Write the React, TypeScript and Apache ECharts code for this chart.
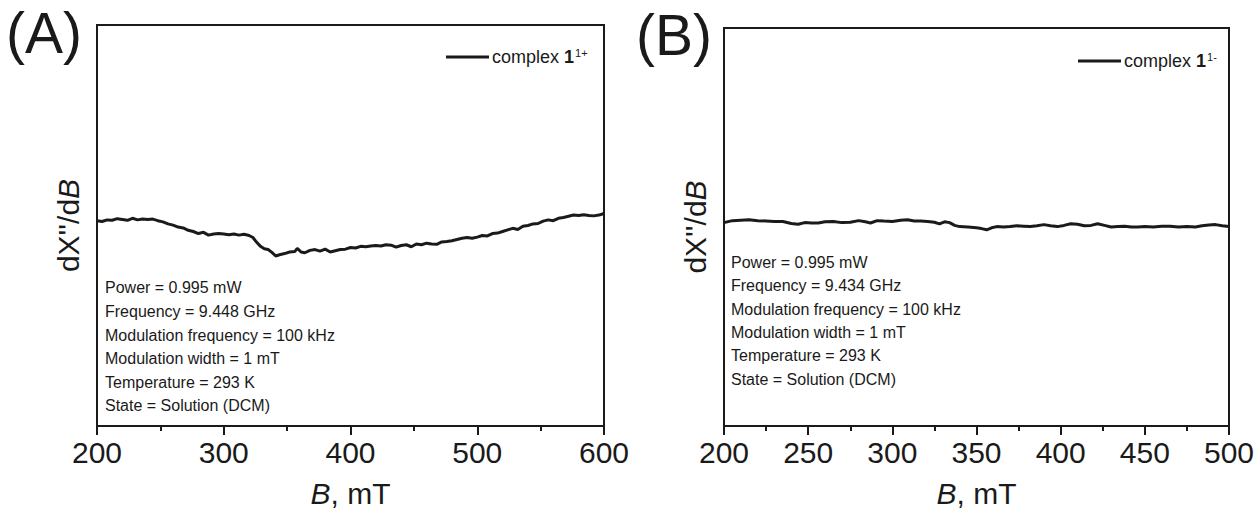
import React, { useEffect, useRef } from 'react';
import * as echarts from 'echarts';

const FONT = '"Liberation Sans", Arial, Helvetica, sans-serif';
const INK = '#1a1a1a';

// Panel A: complex 1(1+), B (mT) vs dX''/dB (arb. units)
const fieldA = [200, 204, 208, 212, 216, 220, 224, 228, 232, 236, 240, 244, 248, 252, 256, 260, 264, 268, 272, 276, 280, 284, 288, 292, 296, 300, 304, 308, 312, 316, 320, 323, 326, 329, 332, 335, 338, 341, 344, 348, 352, 356, 358, 361, 364, 368, 372, 376, 380, 384, 388, 392, 396, 400, 404, 408, 412, 416, 420, 424, 428, 432, 436, 440, 444, 448, 452, 456, 460, 464, 468, 472, 476, 480, 484, 488, 492, 496, 500, 504, 508, 512, 516, 520, 524, 528, 532, 536, 540, 544, 548, 552, 556, 560, 564, 568, 572, 576, 580, 584, 588, 592, 596, 600];
const signalA = [51.2, 51.0, 51.4, 51.3, 51.7, 51.5, 51.3, 51.8, 51.4, 51.6, 51.5, 51.6, 51.2, 50.9, 50.4, 50.1, 49.6, 49.4, 48.8, 48.5, 48.0, 48.3, 47.6, 47.9, 48.0, 47.9, 47.7, 47.9, 47.6, 47.8, 47.5, 47.0, 45.8, 44.8, 44.2, 44.0, 43.3, 42.4, 42.7, 43.0, 43.4, 43.5, 44.3, 43.4, 43.2, 43.8, 44.0, 43.6, 44.1, 43.4, 43.7, 44.0, 44.1, 44.5, 44.4, 44.8, 44.7, 44.9, 45.0, 44.9, 45.2, 45.1, 44.6, 45.0, 45.2, 44.7, 45.4, 45.2, 45.6, 45.4, 45.3, 45.9, 46.0, 46.2, 46.5, 46.8, 47.0, 46.8, 47.1, 47.5, 47.4, 48.0, 48.1, 48.5, 48.9, 49.3, 49.0, 49.8, 50.0, 50.4, 50.5, 51.1, 51.4, 51.2, 51.8, 52.0, 52.3, 52.6, 52.5, 52.7, 52.5, 52.4, 52.6, 53.0];

// Panel B: complex 1(1-)
const fieldB = [200, 205, 210, 215, 220, 225, 230, 235, 240, 244, 248, 252, 256, 260, 265, 270, 275, 280, 284, 287, 291, 295, 300, 305, 309, 313, 317, 321, 325, 328, 331, 334, 337, 340, 345, 350, 353, 356, 359, 362, 366, 370, 374, 378, 382, 386, 390, 394, 398, 402, 406, 410, 414, 418, 422, 426, 430, 434, 438, 442, 446, 450, 455, 460, 465, 470, 475, 480, 484, 488, 492, 496, 500];
const signalB = [51.1, 51.6, 51.7, 51.8, 51.6, 51.5, 51.4, 51.4, 50.9, 50.7, 51.1, 51.0, 51.0, 51.3, 51.4, 51.1, 51.2, 51.6, 51.3, 51.0, 51.6, 51.5, 51.4, 51.7, 51.8, 51.5, 51.5, 51.4, 51.2, 50.8, 51.3, 51.1, 50.4, 50.1, 50.0, 49.8, 49.6, 49.3, 49.8, 50.1, 50.0, 50.1, 50.3, 50.2, 50.1, 50.3, 50.6, 50.3, 50.1, 50.4, 50.8, 50.7, 50.3, 50.4, 50.8, 50.4, 50.0, 50.1, 50.2, 50.0, 50.0, 50.1, 50.0, 50.2, 50.2, 50.0, 50.1, 50.0, 50.3, 50.5, 50.6, 50.3, 50.1];

const rangeA = [200, 600, 100];
const rangeB = [200, 500, 50];

const paramsA = ['Power = 0.995 mW', 'Frequency = 9.448 GHz', 'Modulation frequency = 100 kHz', 'Modulation width = 1 mT', 'Temperature = 293 K', 'State = Solution (DCM)'];
const paramsB = ['Power = 0.995 mW', 'Frequency = 9.434 GHz', 'Modulation frequency = 100 kHz', 'Modulation width = 1 mT', 'Temperature = 293 K', 'State = Solution (DCM)'];

const legendA = ['complex ', '1', '1+'];
const legendB = ['complex ', '1', '1-'];

function xAxisFor(gridIndex: number, r: number[]) {
  return {
    gridIndex,
    type: 'value',
    min: r[0],
    max: r[1],
    interval: r[2],
    axisLine: { show: true, onZero: false, lineStyle: { color: INK, width: 2 } },
    axisTick: { show: true, length: 9, lineStyle: { color: INK, width: 2 } },
    minorTick: { show: true, splitNumber: 2, length: 5, lineStyle: { color: INK, width: 2 } },
    splitLine: { show: false },
    minorSplitLine: { show: false },
    axisLabel: { fontSize: 30, color: INK, margin: 11, fontFamily: FONT },
    name: '{i|B}, mT',
    nameLocation: 'middle',
    nameGap: 52,
    nameTextStyle: {
      fontSize: 30, color: INK, fontFamily: FONT,
      rich: { i: { fontStyle: 'italic', fontSize: 30, color: INK, fontFamily: FONT } },
    },
  };
}

function yAxisFor(gridIndex: number) {
  return {
    gridIndex,
    type: 'value',
    min: 0,
    max: 100,
    axisLine: { show: true, lineStyle: { color: INK, width: 2 } },
    axisTick: { show: false },
    axisLabel: { show: false },
    splitLine: { show: false },
    name: "dX''/d{i|B}",
    nameLocation: 'middle',
    nameGap: 14,
    nameRotate: 90,
    nameTextStyle: {
      fontSize: 30, color: INK, fontFamily: FONT,
      rich: { i: { fontStyle: 'italic', fontSize: 30, color: INK, fontFamily: FONT } },
    },
  };
}

function legendFor(parts: string[], name: string, left: number, top: number) {
  return {
    data: [name],
    left,
    top,
    icon: 'rect',
    itemWidth: 43,
    itemHeight: 3,
    itemGap: 4,
    padding: 0,
    formatter: () => `${parts[0]}{b|${parts[1]}}{s|${parts[2]}}`,
    textStyle: {
      fontSize: 18,
      color: INK,
      fontFamily: FONT,
      padding: [0, 0, 0, -2],
      rich: {
        b: { fontSize: 18, fontWeight: 'bold', color: INK, fontFamily: FONT },
        s: { fontSize: 11, color: INK, fontFamily: FONT, verticalAlign: 'top', padding: [0, 0, 9, 1] },
      },
    },
  };
}

export default function App() {
  const ref = useRef<HTMLDivElement>(null);
  useEffect(() => {
    if (!ref.current) return;
    const chart = echarts.init(ref.current, null, { renderer: 'svg' });
    const nameA = 'complex 1 (1+)';
    const nameB = 'complex 1 (1-)';
    chart.setOption({
      animation: false,
      backgroundColor: '#ffffff',
      grid: [
        { left: 97, top: 25, width: 507, height: 413, show: true, borderColor: INK, borderWidth: 2, backgroundColor: 'transparent' },
        { left: 724, top: 28, width: 505, height: 412, show: true, borderColor: INK, borderWidth: 2, backgroundColor: 'transparent' },
      ],
      xAxis: [xAxisFor(0, rangeA), xAxisFor(1, rangeB)],
      yAxis: [yAxisFor(0), yAxisFor(1)],
      legend: [legendFor(legendA, nameA, 446, 47), legendFor(legendB, nameB, 1078, 51)],
      series: [
        {
          name: nameA, type: 'line', xAxisIndex: 0, yAxisIndex: 0, symbol: 'none',
          lineStyle: { color: INK, width: 3 }, itemStyle: { color: INK },
          data: fieldA.map((b, i) => [b, signalA[i]]),
        },
        {
          name: nameB, type: 'line', xAxisIndex: 1, yAxisIndex: 1, symbol: 'none',
          lineStyle: { color: INK, width: 3 }, itemStyle: { color: INK },
          data: fieldB.map((b, i) => [b, signalB[i]]),
        },
      ],
      graphic: [
        { type: 'text', left: 6, top: 4, style: { text: '(A)', fontSize: 57, fill: INK, fontFamily: FONT } },
        { type: 'text', left: 636, top: 6, style: { text: '(B)', fontSize: 57, fill: INK, fontFamily: FONT } },
        { type: 'text', left: 105, top: 276, style: { text: paramsA.join('\n'), fontSize: 16, lineHeight: 23.6, fill: INK, fontFamily: FONT } },
        { type: 'text', left: 731, top: 251, style: { text: paramsB.join('\n'), fontSize: 16, lineHeight: 23.3, fill: INK, fontFamily: FONT } },
      ],
    });
    return () => chart.dispose();
  }, []);
  return <div ref={ref} style={{ position: 'absolute', left: 0, top: 0, width: 1259, height: 513 }} />;
}
